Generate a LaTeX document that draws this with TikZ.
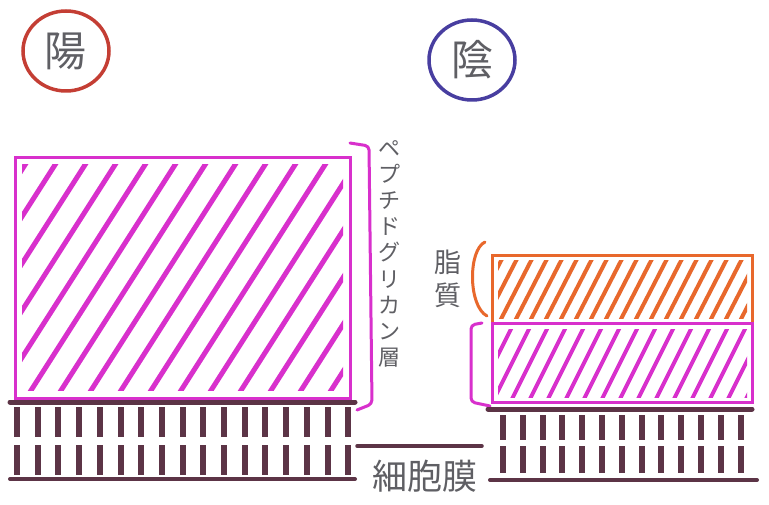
\documentclass[tikz,border=0pt]{standalone}
\usepackage{fontspec}
\newfontfamily\jp{Noto Sans CJK JP}
\usetikzlibrary{shapes.geometric}
\definecolor{mag}{RGB}{216,48,204}
\definecolor{org}{RGB}{232,104,44}
\definecolor{mem}{RGB}{92,52,70}
\definecolor{redc}{RGB}{196,62,52}
\definecolor{bluec}{RGB}{72,62,160}
\definecolor{txt}{RGB}{95,95,100}
\begin{document}
\begin{tikzpicture}[x=1pt,y=-1pt,
  badge/.style={ellipse,draw,line width=3.5pt,inner sep=0pt,minimum width=86pt,minimum height=80pt,text=txt,font=\jp\fontsize{42}{42}\selectfont},
  vlabel/.style={text=txt,align=center,inner sep=0pt},
  layerbox/.style={line width=3pt},
  hatchline/.style={line width=5pt,line cap=round},
  memline/.style={mem,line width=5pt,line cap=round},
  memdash/.style={mem,line width=6pt},
  brace/.style={line width=3pt,line cap=round,line join=round}]
\useasboundingbox (0,0) rectangle (769,505);
\fill[white] (0,0) rectangle (769,505);

% badges
\node[badge,draw=redc] (pos) at (66,51) {陽};
\node[badge,draw=bluec] (neg) at (472,60) {陰};

% ---------- left: gram-positive ----------
\coordinate (PGa) at (15,158);
\coordinate (PGb) at (350,398);
\begin{scope}
  \clip (22,165) rectangle (343,390);
  \foreach \x in {-150,-120,...,340}
    \draw[mag,hatchline] (\x,392) -- ++(150,-235);
\end{scope}
\draw[mag,layerbox] (PGa) rectangle (PGb);

% bracket and label
\coordinate (Bt) at (350,143);
\coordinate (Bb) at (357,410);
\draw[mag,brace,rounded corners=4pt] (Bt) -- (369,146) -- (372,404) -- (Bb);
\node[vlabel,font=\jp\fontsize{22}{26.2}\selectfont,anchor=north] (pglab) at (389,140)
  {ペ\\プ\\チ\\ド\\グ\\リ\\カ\\ン\\層};

% membrane left
\foreach \i in {0,...,16}{
  \pgfmathsetmacro{\xx}{17+20.7*\i}
  \draw[memdash] (\xx,407) -- (\xx,437);
  \draw[memdash] (\xx,445) -- (\xx,475);
}
\draw[memline] (10,402) -- (355,402);
\draw[mem,line width=4pt,line cap=round] (10,479) -- (355,479);

% ---------- right: gram-negative ----------
\coordinate (LPa) at (492,256);
\coordinate (LPb) at (752,324);
\coordinate (PNa) at (492,324);
\coordinate (PNb) at (752,402);
\begin{scope}
  \clip (498,261) rectangle (747,319);
  \foreach \x in {440,455,...,760}
    \draw[org,line width=4pt,line cap=round] (\x,321) -- ++(35,-68);
\end{scope}
\begin{scope}
  \clip (498,330) rectangle (747,397);
  \foreach \x in {440,458,...,760}
    \draw[mag,line width=4pt,line cap=round] (\x,399) -- ++(38,-76);
\end{scope}
\draw[org,layerbox] (LPa) rectangle (LPb);
\draw[mag,layerbox] (PNa) rectangle (PNb);

% lipid bracket + label
\coordinate (Ot) at (485,242);
\coordinate (Ob) at (487,316);
\draw[org,brace] (Ot) .. controls (468,250) and (468,306) .. (Ob);
\node[vlabel,font=\jp\fontsize{27}{33}\selectfont] (lplab) at (448,279) {脂\\質};

% peptidoglycan bracket right
\coordinate (Mt) at (482,323);
\coordinate (Mb) at (490,406);
\draw[mag,brace,rounded corners=4pt] (Mt) -- (471,325) -- (471,402) -- (Mb);

% membrane right
\foreach \i in {0,...,12}{
  \pgfmathsetmacro{\xx}{503+19.8*\i}
  \draw[memdash] (\xx,415) -- (\xx,440);
  \draw[memdash] (\xx,446) -- (\xx,473);
}
\draw[memline] (488,409) -- (752,409);
\draw[mem,line width=4pt,line cap=round] (490,480) -- (757,480);

% cell membrane label
\coordinate (Ml) at (357,446);
\coordinate (Mr) at (482,446);
\draw[mem,line width=3.5pt,line cap=round] (Ml) -- (Mr);
\node[text=txt,font=\jp\fontsize{35}{35}\selectfont,inner sep=0pt] (memlab) at (425,476) {細胞膜};
\end{tikzpicture}
\end{document}
